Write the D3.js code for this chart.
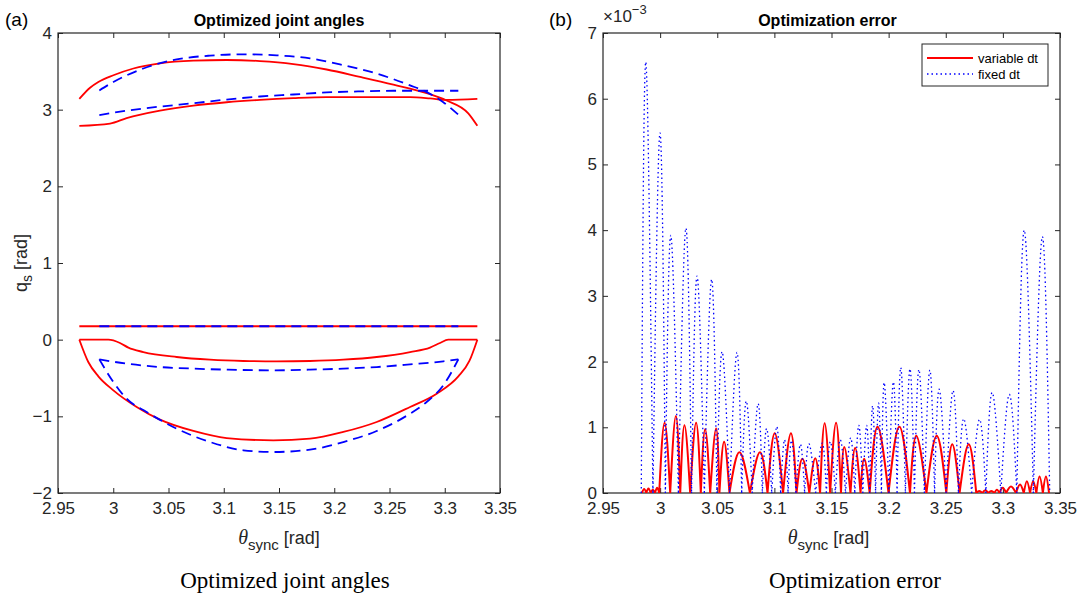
<!DOCTYPE html>
<html><head><meta charset="utf-8">
<script src="https://cdn.jsdelivr.net/npm/d3@7"></script>
<style>
body{margin:0;background:#fff;}
svg text{font-family:"Liberation Sans",Arial,Helvetica,sans-serif;}
</style></head>
<body><svg id="c" width="1091" height="595"></svg>
<script>
// ---------- shared ticks ----------
const xTicks = [2.95, 3.0, 3.05, 3.1, 3.15, 3.2, 3.25, 3.3, 3.35];
const xTickLabels = ["2.95", "3", "3.05", "3.1", "3.15", "3.2", "3.25", "3.3", "3.35"];
const yTicksA = [-2, -1, 0, 1, 2, 3, 4];
const yTickLabelsA = ["\u22122", "\u22121", "0", "1", "2", "3", "4"];
const yTicksB = [0, 1, 2, 3, 4, 5, 6, 7];          // x 10^-3
const yTickLabelsB = ["0", "1", "2", "3", "4", "5", "6", "7"];

// ---------- (a) optimized joint angles : [theta, q] ----------
const redUpperArch = [[2.9693,3.141],[2.9790,3.286],[2.9865,3.361],[3.0001,3.449],[3.0182,3.537],[3.0423,3.604],[3.0725,3.639],[3.1026,3.648],[3.1328,3.634],[3.1630,3.595],[3.1931,3.524],[3.2233,3.427],[3.2535,3.326],[3.2836,3.216],[3.3017,3.119],[3.3213,2.952],[3.3295,2.789]];
const redUpperLow = [[2.9693,2.789],[2.9971,2.819],[3.0121,2.890],[3.0423,2.987],[3.0725,3.053],[3.1026,3.097],[3.1328,3.128],[3.1630,3.150],[3.1931,3.163],[3.2384,3.163],[3.2686,3.163],[3.2867,3.147],[3.3017,3.127],[3.3295,3.141]];
const redFlat = [[2.9693,0.175],[3.3295,0.175]];
const redLowShallow = [[2.9693,0],[2.9956,0],[3.0061,-0.043],[3.0137,-0.104],[3.0272,-0.161],[3.0574,-0.226],[3.0876,-0.261],[3.1177,-0.278],[3.1479,-0.283],[3.1781,-0.278],[3.2082,-0.261],[3.2384,-0.226],[3.2686,-0.161],[3.2867,-0.104],[3.2957,-0.043],[3.3032,0],[3.3295,0]];
const redLowDeep = [[2.9693,0],[2.9774,-0.291],[2.9865,-0.478],[3.0001,-0.661],[3.0212,-0.878],[3.0423,-1.043],[3.0725,-1.191],[3.1026,-1.283],[3.1449,-1.313],[3.1781,-1.291],[3.2082,-1.204],[3.2384,-1.074],[3.2686,-0.878],[3.2927,-0.704],[3.3123,-0.478],[3.3223,-0.278],[3.3295,0]];

const blueUpperArch = [[2.9874,3.251],[3.0001,3.361],[3.0272,3.537],[3.0574,3.656],[3.0876,3.705],[3.1177,3.722],[3.1479,3.709],[3.1781,3.670],[3.2082,3.581],[3.2384,3.471],[3.2686,3.317],[3.2836,3.229],[3.2987,3.097],[3.3123,2.934]];
const blueUpperLow = [[2.9874,2.930],[3.0121,2.987],[3.0423,3.040],[3.0725,3.084],[3.1026,3.132],[3.1328,3.172],[3.1630,3.198],[3.1931,3.225],[3.2233,3.238],[3.2535,3.247],[3.3123,3.247]];
const blueFlat = [[2.9874,0.175],[3.3123,0.175]];
const blueLowShallow = [[2.9874,-0.257],[3.0121,-0.313],[3.0423,-0.357],[3.0725,-0.378],[3.1026,-0.391],[3.1449,-0.400],[3.1781,-0.391],[3.2082,-0.378],[3.2384,-0.357],[3.2686,-0.322],[3.2987,-0.283],[3.3123,-0.257]];
const blueLowDeep = [[2.9874,-0.257],[3.0001,-0.552],[3.0121,-0.770],[3.0302,-0.943],[3.0574,-1.161],[3.0876,-1.335],[3.1177,-1.443],[3.1449,-1.465],[3.1781,-1.435],[3.2082,-1.335],[3.2384,-1.191],[3.2686,-0.965],[3.2836,-0.813],[3.2987,-0.596],[3.3123,-0.257]];

// ---------- (b) optimization error (values in units of 1e-3) ----------
// error is zero at the zeros, one arch between consecutive zeros
const varZeros = [2.9841,2.9879,2.9917,2.9955,2.9992,3.0088,3.0176,3.0263,3.0356,3.0438,3.0519,3.0607,3.0786,3.0940,3.1076,3.1194,3.1306,3.1400,3.1488,3.1583,3.1666,3.1754,3.1834,3.1999,3.2187,3.2331,3.2505,3.2621,3.2767,3.2820,3.2873,3.2926,3.2970,3.3028,3.3115,3.3183,3.3238,3.3293,3.3350,3.3404];
const varPeakX = [2.9860,2.9898,2.9936,2.9974,3.0039,3.0138,3.0213,3.0315,3.0394,3.0490,3.0560,3.0694,3.0874,3.1003,3.1145,3.1245,3.1358,3.1440,3.1540,3.1612,3.1707,3.1786,3.1903,3.2094,3.2242,3.2421,3.2557,3.2701,3.2793,3.2846,3.2899,3.2948,3.2999,3.3071,3.3150,3.3210,3.3265,3.3321,3.3377];
const varPeakY = [0.06,0.07,0.05,0.08,1.07,1.17,1.03,1.07,0.97,0.98,0.78,0.62,0.62,0.91,0.91,0.52,0.53,1.06,1.07,0.70,0.69,0.52,1.01,1.01,0.87,0.87,0.74,0.74,0.03,0.04,0.03,0.05,0.08,0.10,0.13,0.18,0.18,0.25,0.25];

const fixZeros = [2.9835,2.9937,3.0046,3.0160,3.0275,3.0387,3.0497,3.0608,3.0714,3.0806,3.0895,3.0977,3.1055,3.1120,3.1189,3.1265,3.1361,3.1455,3.1534,3.1623,3.1704,3.1774,3.1834,3.1886,3.1937,3.2002,3.2074,3.2147,3.2226,3.2313,3.2402,3.2503,3.2611,3.2727,3.2851,3.2982,3.3122,3.3267,3.3410];
const fixPeakX = [2.9874,2.9999,3.0093,3.0226,3.0323,3.0451,3.0542,3.0673,3.0754,3.0858,3.0932,3.1021,3.1089,3.1150,3.1228,3.1302,3.1419,3.1490,3.1577,3.1668,3.1739,3.1808,3.1860,3.1912,3.1961,3.2042,3.2106,3.2187,3.2265,3.2361,3.2442,3.2564,3.2657,3.2796,3.2906,3.3057,3.3187,3.3346];
const fixPeakY = [6.56,5.48,3.92,4.03,3.30,3.25,2.15,2.14,1.40,1.36,0.98,1.01,0.81,0.80,0.74,0.75,0.76,0.78,0.81,0.84,1.03,1.03,1.33,1.37,1.68,1.69,1.91,1.89,1.88,1.87,1.58,1.56,1.13,1.12,1.53,1.50,4.00,3.90];

const legendLabels = ["variable dt", "fixed dt"];

// ---------- drawing ----------
const svg = d3.select("#c");
const AX = "#262626";
const RED = "#ff0000", BLUE = "#0000ff";
const axA = {x0:58, x1:500, y0:33, y1:493};
const axB = {x0:603, x1:1060, y0:33, y1:493};

function frame(g, ax, x, y, yTicks, yLabels, id) {
  g.append("clipPath").attr("id", id).append("rect")
    .attr("x", ax.x0).attr("y", ax.y0).attr("width", ax.x1-ax.x0).attr("height", ax.y1-ax.y0);
  const fmtX = (d,i) => xTickLabels[i];
  const fmtY = (d,i) => yLabels[i];
  const styleAxis = s => {
    s.select(".domain").remove();
    s.selectAll("line").attr("stroke", AX).attr("stroke-width", 1);
    s.selectAll("text").attr("fill", AX).style("font-size", "17px");
  };
  g.append("g").attr("transform", `translate(0,${ax.y1})`)
    .call(d3.axisBottom(x).tickValues(xTicks).tickFormat(fmtX).tickSizeInner(-5).tickSizeOuter(0).tickPadding(9))
    .call(styleAxis);
  g.append("g").attr("transform", `translate(0,${ax.y0})`)
    .call(d3.axisTop(x).tickValues(xTicks).tickFormat("").tickSizeInner(-5).tickSizeOuter(0))
    .call(styleAxis);
  g.append("g").attr("transform", `translate(${ax.x0},0)`)
    .call(d3.axisLeft(y).tickValues(yTicks).tickFormat(fmtY).tickSizeInner(-5).tickSizeOuter(0).tickPadding(6))
    .call(styleAxis);
  g.append("g").attr("transform", `translate(${ax.x1},0)`)
    .call(d3.axisRight(y).tickValues(yTicks).tickFormat("").tickSizeInner(-5).tickSizeOuter(0))
    .call(styleAxis);
  g.append("rect").attr("x", ax.x0).attr("y", ax.y0).attr("width", ax.x1-ax.x0).attr("height", ax.y1-ax.y0)
    .attr("fill", "none").attr("stroke", AX).attr("stroke-width", 1.2);
}

function xLabel(g, cx, yb) {
  const t = g.append("text").attr("x", cx).attr("y", yb).attr("text-anchor", "middle")
    .style("font-size", "18px").attr("fill", AX);
  t.append("tspan").text("\u03B8").style("font-family", "'Liberation Serif','Times New Roman',serif").style("font-style", "italic").style("font-size", "20px");
  t.append("tspan").text("sync").attr("dy", 6).style("font-size", "15px");
  t.append("tspan").text(" [rad]").attr("dy", -6);
}

// ----- panel (a) -----
const gA = svg.append("g");
const xA = d3.scaleLinear().domain([2.95, 3.35]).range([axA.x0, axA.x1]);
const yA = d3.scaleLinear().domain([-2, 4]).range([axA.y1, axA.y0]);
frame(gA, axA, xA, yA, yTicksA, yTickLabelsA, "clipA");
const lineA = d3.line().x(d => xA(d[0])).y(d => yA(d[1])).curve(d3.curveMonotoneX);
const plotA = gA.append("g").attr("clip-path", "url(#clipA)");
[redUpperArch, redUpperLow, redFlat, redLowShallow, redLowDeep].forEach(s =>
  plotA.append("path").attr("d", lineA(s)).attr("fill", "none").attr("stroke", RED).attr("stroke-width", 1.8));
[blueUpperArch, blueUpperLow, blueFlat, blueLowShallow, blueLowDeep].forEach(s =>
  plotA.append("path").attr("d", lineA(s)).attr("fill", "none").attr("stroke", BLUE).attr("stroke-width", 1.8).attr("stroke-dasharray", "10,6"));

gA.append("text").attr("x", (axA.x0+axA.x1)/2).attr("y", 26).attr("text-anchor", "middle")
  .style("font-size", "16px").style("font-weight", "bold").attr("fill", "#000").text("Optimized joint angles");
xLabel(gA, (axA.x0+axA.x1)/2, 544);
const yl = gA.append("text").attr("transform", `translate(27,${(axA.y0+axA.y1)/2}) rotate(-90)`)
  .attr("text-anchor", "middle").style("font-size", "18px").attr("fill", AX);
yl.append("tspan").text("q");
yl.append("tspan").text("s").attr("dy", 5).style("font-size", "14px");
yl.append("tspan").text(" [rad]").attr("dy", -5);
svg.append("text").attr("x", 5).attr("y", 26).style("font-size", "19px").attr("fill", "#000").text("(a)");

// ----- panel (b) -----
const gB = svg.append("g");
const xB = d3.scaleLinear().domain([2.95, 3.35]).range([axB.x0, axB.x1]);
const yB = d3.scaleLinear().domain([0, 7]).range([axB.y1, axB.y0]);
frame(gB, axB, xB, yB, yTicksB, yTickLabelsB, "clipB");
const arch = d3.line().x(d => xB(d[0])).y(d => yB(d[1])).curve(d3.curveNatural);
function humps(zeros, px, py) {
  let s = "";
  px.forEach((p, i) => { s += arch([[zeros[i], 0], [p, py[i]], [zeros[i+1], 0]]); });
  return s;
}
const plotB = gB.append("g").attr("clip-path", "url(#clipB)");
plotB.append("path").attr("d", humps(varZeros, varPeakX, varPeakY)).attr("fill", "none")
  .attr("stroke", RED).attr("stroke-width", 2).attr("stroke-linejoin", "round");
plotB.append("path").attr("d", humps(fixZeros, fixPeakX, fixPeakY)).attr("fill", "none")
  .attr("stroke", BLUE).attr("stroke-width", 1.3).attr("stroke-dasharray", "1.5,3");

gB.append("text").attr("x", (axB.x0+axB.x1)/2 - 4).attr("y", 26).attr("text-anchor", "middle")
  .style("font-size", "16px").style("font-weight", "bold").attr("fill", "#000").text("Optimization error");
xLabel(gB, (axB.x0+axB.x1)/2 - 3, 544);
const ex = gB.append("text").attr("x", axB.x0).attr("y", 22).style("font-size", "17px").attr("fill", AX);
ex.append("tspan").text("\u00D710");
ex.append("tspan").text("\u22123").attr("dy", -8).style("font-size", "13px");
svg.append("text").attr("x", 549).attr("y", 26).style("font-size", "19px").attr("fill", "#000").text("(b)");

// legend
const lg = gB.append("g");
const lgX = 922, lgY = 44;
lg.append("rect").attr("x", lgX).attr("y", lgY).attr("width", 126).attr("height", 42)
  .attr("fill", "#fff").attr("stroke", AX).attr("stroke-width", 1);
const legendStyles = [{c: RED, w: 2, dash: null}, {c: BLUE, w: 1.3, dash: "1.5,3"}];
legendLabels.forEach((lab, i) => {
  const yy = lgY + 14 + i * 16;
  const ln = lg.append("line").attr("x1", lgX + 5).attr("x2", lgX + 51).attr("y1", yy).attr("y2", yy)
    .attr("stroke", legendStyles[i].c).attr("stroke-width", legendStyles[i].w);
  if (legendStyles[i].dash) ln.attr("stroke-dasharray", legendStyles[i].dash);
  lg.append("text").attr("x", lgX + 56).attr("y", yy + 5).style("font-size", "13px").attr("fill", "#000").text(lab);
});

// captions
const capFont = "'Liberation Serif','Times New Roman',serif";
svg.append("text").attr("x", 285).attr("y", 588).attr("text-anchor", "middle")
  .style("font-family", capFont).style("font-size", "23px").attr("fill", "#000").text("Optimized joint angles");
svg.append("text").attr("x", 855).attr("y", 588).attr("text-anchor", "middle")
  .style("font-family", capFont).style("font-size", "23px").attr("fill", "#000").text("Optimization error");
</script>
</body></html>
